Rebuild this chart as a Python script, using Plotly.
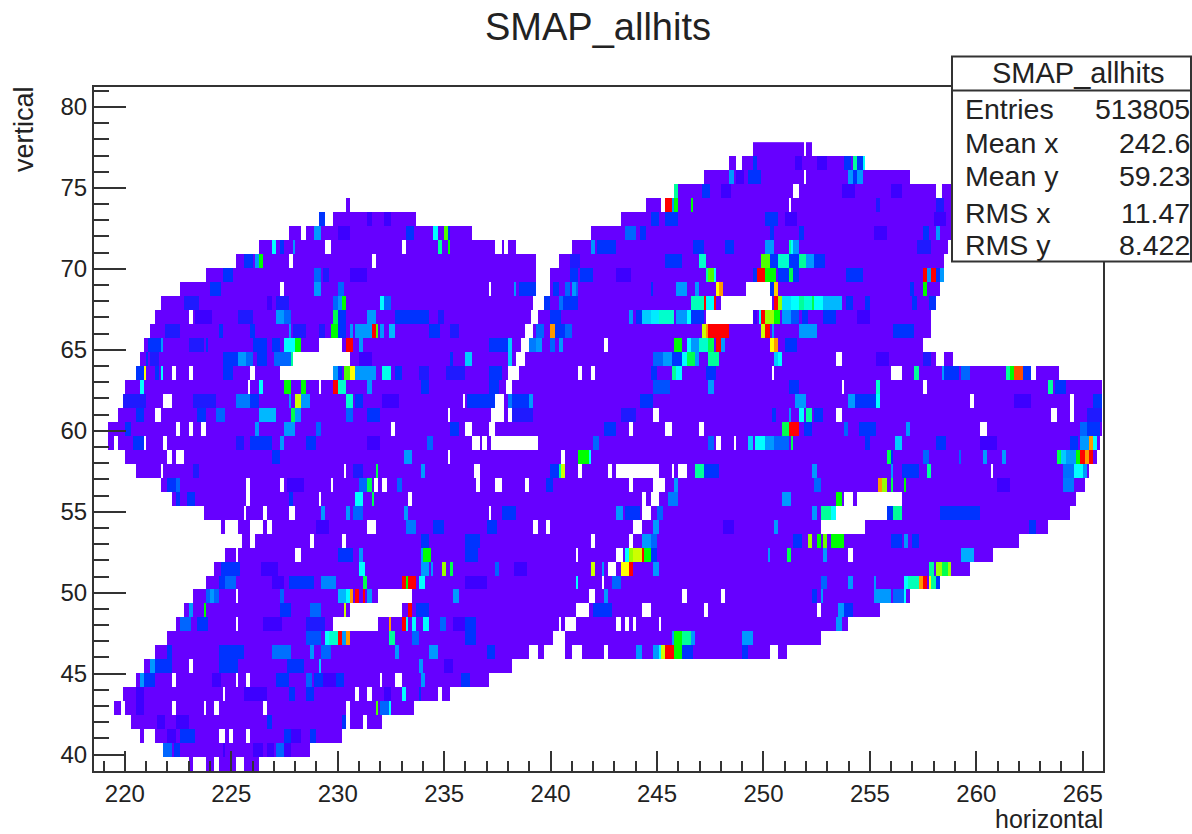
import numpy as np
import plotly.graph_objects as go

TITLE = "SMAP_allhits"
stats_labels = ["Entries", "Mean x", "Mean y", "RMS x", "RMS y"]
stats_values = ["513805", "242.6", "59.23", "11.47", "8.422"]
x_ticks = [220, 225, 230, 235, 240, 245, 250, 255, 260, 265]
y_ticks = [40, 45, 50, 55, 60, 65, 70, 75, 80]

# colour levels of the ROOT rainbow palette, low to high
palette = ["#6600ff", "#3d00ff", "#0033ff", "#0099ff", "#00ffff", "#00ff99",
           "#00ff00", "#99ff00", "#ffff00", "#ff9900", "#ff0000"]

# occupied x ranges per vertical row (row 0 is the bottom one)
row_spans = {
 0: [(223.0,223.2),(223.8,224.2),(224.45,225.15),(225.6,226.35)],
 1: [(221.85,228.65)],
 2: [(220.65,220.9),(221.4,230.25)],
 3: [(220.3,230.4),(230.6,231.2),(231.4,232.1)],
 4: [(219.55,219.85),(220.05,233.6)],
 5: [(219.9,234.7),(234.95,235.3)],
 6: [(220.5,237.1)],
 7: [(220.9,238.25)],
 8: [(221.4,239.0),(239.4,239.65),(240.7,250.35),(250.7,251.1)],
 9: [(222.0,240.1),(240.75,252.65)],
 10: [(222.45,254.0)],
 11: [(222.85,255.55)],
 12: [(223.2,256.9)],
 13: [(223.8,258.35)],
 14: [(224.2,259.7)],
 15: [(224.75,260.8)],
 16: [(225.55,262.0)],
 17: [(224.55,224.75),(225.35,263.4)],
 18: [(223.65,264.4)],
 19: [(222.25,264.75)],
 20: [(221.65,265.1)],
 21: [(220.5,265.35)],
 22: [(220.05,265.75)],
 23: [(219.25,265.85)],
 24: [(219.25,265.95)],
 25: [(219.7,265.95)],
 26: [(219.9,265.95)],
 27: [(220.05,265.95)],
 28: [(220.5,263.95)],
 29: [(220.65,258.1),(258.55,258.9)],
 30: [(220.9,257.5)],
 31: [(221.25,257.9)],
 32: [(221.4,257.9)],
 33: [(221.65,258.07)],
 34: [(222.6,239.3),(240.0,258.3)],
 35: [(223.8,239.35),(240.0,258.5)],
 36: [(225.16,239.35),(240.4,258.5)],
 37: [(226.35,238.45),(241.0,258.7)],
 38: [(227.74,236.3),(241.95,258.8)],
 39: [(229.08,233.75),(243.3,258.8)],
 40: [(230.4,230.6),(244.5,258.8)],
 41: [(245.85,258.1),(258.4,258.8)],
 42: [(247.2,256.9)],
 43: [(248.4,248.7),(249.0,254.8)],
 44: [(249.5,251.9),(252.05,252.3)],
}

# white holes inside the occupied ranges
row_gaps = {
 2: [(224.4,224.75),(224.95,225.1),(225.75,225.95)],
 4: [(222.25,222.4),(223.65,223.8),(224.2,224.4),(226.5,226.65),(230.45,230.6)],
 5: [(224.6,224.75),(230.8,231.0),(231.4,231.6)],
 6: [(222.25,222.4),(225.15,225.35),(225.75,225.95),(232.0,232.1),(232.75,233.0)],
 7: [(223.05,223.2)],
 8: [(241.0,241.5),(242.55,242.75)],
 10: [(225.15,225.35),(229.85,231.95),(240.4,240.55),(240.75,241.15),(243.1,243.3),(243.5,243.7),(243.9,244.05),(245.1,245.2),(248.65,248.75)],
 11: [(230.6,233.0),(241.2,241.8),(244.3,244.65),(247.2,247.4),(252.5,252.65)],
 12: [(225.15,225.35),(231.95,233.55),(241.8,242.1),(246.2,246.45),(248.0,248.15)],
 13: [(242.4,242.55)],
 14: [(242.7,243.1)],
 15: [(225.15,225.35),(228.05,228.3),(241.2,241.35),(243.1,243.45),(254.0,254.15)],
 16: [(225.95,226.1),(228.65,228.9),(230.25,230.4),(241.95,242.1),(243.7,243.9)],
 17: [(225.95,226.55),(226.7,226.95),(231.4,231.8),(239.2,239.4),(239.8,240.0),(243.9,244.3),(252.65,254.8)],
 18: [(225.6,225.75),(226.55,226.7),(227.7,228.05),(237.1,237.25),(244.3,244.65),(253.45,255.85)],
 19: [(225.75,225.95),(229.1,229.25),(233.3,233.55),(244.3,244.5),(244.65,245.1),(253.85,254.15),(254.45,254.6),(254.6,256.55)],
 20: [(225.75,225.95),(227.3,227.55),(229.65,229.85),(231.75,231.95),(232.1,232.35),(236.5,236.65),(237.4,237.65),(238.8,239.05),(243.7,243.9),(244.8,245.4)],
 21: [(221.65,221.85),(230.3,230.45),(236.45,236.65),(241.35,241.5),(242.7,242.95),(243.1,245.1),(245.7,245.85),(246.0,246.45),(260.7,260.85)],
 22: [(222.0,222.25),(222.45,222.85),(235.15,235.3),(240.55,240.75)],
 23: [(219.55,219.7),(220.9,221.05),(221.85,222.0),(236.3,236.65),(236.8,237.05),(237.25,239.4),(247.8,248.0),(248.6,248.75)],
 24: [(222.45,222.6),(223.0,223.2),(223.6,223.8),(232.55,232.75),(236.05,236.3),(237.1,237.4),(243.7,243.9),(245.45,245.7),(247.05,247.2),(260.25,260.5)],
 25: [(221.4,221.65),(235.15,235.3),(237.25,237.85),(238.0,238.25),(244.85,245.1),(253.4,253.7),(263.55,263.8),(264.45,264.6)],
 26: [(221.85,222.25),(235.9,236.05),(237.45,237.85),(259.75,259.9),(264.45,264.6)],
 27: [(225.8,225.95),(229.1,229.25),(237.9,238.25),(253.7,253.85),(257.5,257.75)],
 28: [(222.25,222.4),(223.05,223.2),(225.95,226.1),(227.3,229.85),(238.0,238.55),(241.35,241.5),(241.95,242.1),(250.36,250.5),(256.0,256.55),(262.6,262.8)],
 29: [(227.9,230.6),(238.4,238.8),(253.45,253.7)],
 30: [(229.1,230.25),(238.6,239.0),(242.5,242.7)],
 31: [(238.8,239.2)],
 32: [(223.05,223.2),(239.07,239.4),(247.35,249.5)],
 33: [(239.2,239.65),(248.0,250.36)],
 34: [(227.3,227.55),(237.1,237.25),(249.15,250.35)],
 36: [(227.75,227.9),(231.6,231.8)],
 37: [(229.4,229.65),(233.0,233.2),(237.45,237.65),(237.85,238.0)],
 38: [(228.3,228.5)],
 39: [(229.4,229.8)],
 40: [(245.25,245.4),(251.15,251.3)],
 41: [(251.45,251.7)],
 42: [(251.9,252.05)],
}

# coloured cells: (from x, to x, palette level)
row_marks = {
 1: [(221.85,222.25,3.5),(222.3,222.6,3),(224.6,224.75,2),(226.05,226.55,2),(226.7,227.05,2),(227.1,227.55,3.5),(227.55,227.85,2)],
 2: [(222.0,222.4,2),(222.6,223.35,3),(227.55,227.85,3),(227.85,228.3,2),(228.65,229.05,3)],
 3: [(230.2,230.4,3),(226.7,226.95,3)],
 4: [(220.5,220.9,2),(231.8,231.95,7.5),(232.0,232.4,3.5),(232.4,232.55,5)],
 5: [(220.5,220.9,2),(225.6,226.7,2),(227.7,228.0,3),(228.5,228.9,3),(232.2,232.55,2),(233.0,233.15,5),(233.8,233.95,3),(235.5,235.8,2)],
 6: [(220.65,220.9,4),(220.9,221.4,3),(227.1,227.65,3),(228.5,228.8,3.5),(228.9,229.3,3),(229.9,230.3,3),(232.75,232.9,3),(233.9,234.1,4),(235.8,236.2,3)],
 7: [(221.25,221.4,4),(221.45,222.25,3),(224.4,225.3,3),(227.6,228.4,3),(229.1,229.25,4.5),(233.8,234.0,4),(235.0,235.4,2)],
 8: [(222.0,222.25,3),(224.4,225.6,3),(226.9,227.85,3.6),(228.65,228.9,4),(229.25,229.65,3.5),(232.7,232.9,4),(234.35,234.65,4),(237.0,237.4,3),(244.05,244.3,4),(244.8,245.1,4),(245.1,245.25,5),(245.25,245.4,8.5),(245.4,245.85,11),(245.85,246.15,7),(246.2,246.7,3),(249.0,249.3,3)],
 9: [(228.5,229.2,3.3),(229.45,229.6,5),(229.6,230.0,5.5),(230.0,230.25,11),(230.25,230.45,4),(230.45,230.6,10),(232.4,232.7,6),(245.7,245.83,4),(245.83,246.2,7),(246.2,246.6,6),(246.6,246.8,4),(249.0,249.5,4),(233.5,233.8,3.5),(236.0,236.5,3)],
 10: [(222.6,223.1,3.5),(223.4,223.95,3),(228.5,229.4,2.5),(232.4,232.55,10),(233.0,233.15,11),(233.15,233.3,5),(233.55,233.75,5),(234.0,234.35,5),(234.8,235.1,3.5),(236.0,236.5,3),(253.4,253.7,4)],
 11: [(223.0,223.2,4),(223.65,223.8,7),(227.3,227.85,3),(228.65,229.2,3.5),(230.3,230.45,8.5),(233.3,233.55,11),(233.65,234.35,3),(242.0,242.9,3),(253.5,253.85,4),(253.85,254.2,3)],
 12: [(223.8,224.4,3.5),(224.0,224.2,4),(227.3,227.55,3.5),(230.05,230.45,4.3),(230.45,230.6,5),(230.6,230.75,10),(230.8,231.0,11),(231.2,231.35,11),(231.4,231.6,4),(235.45,235.7,4),(242.55,242.75,4),(252.3,252.5,3),(252.65,252.8,4),(255.2,256.05,4),(256.15,256.6,3.5),(256.6,256.75,5)],
 13: [(224.4,224.75,3),(224.75,225.15,3.5),(227.7,228.9,3),(229.25,229.95,3.8),(231.2,231.4,6.5),(233.0,233.15,11),(233.15,233.3,7),(233.3,233.7,11),(233.8,234.1,5),(241.2,241.35,5),(242.95,243.3,3.5),(252.65,253.05,3.5),(254.0,254.2,4),(255.2,255.35,4),(256.6,256.8,5),(256.8,257.3,5.7),(257.3,257.5,10),(257.5,257.75,11),(257.8,257.95,9),(257.95,258.1,6),(258.1,258.35,3)],
 14: [(224.5,225.4,3),(231.05,231.35,5),(233.9,234.3,4),(234.4,234.55,4),(234.95,235.1,8),(235.3,235.45,6.5),(237.4,237.6,3.5),(241.95,242.1,8.5),(242.4,242.55,4),(243.3,243.7,9),(243.7,243.9,11),(244.8,245.1,4),(257.8,258.0,6),(258.1,258.4,8),(258.4,258.7,6.5),(258.7,258.85,8)],
 15: [(230.05,230.75,3),(231.05,231.2,4),(233.9,234.05,4),(234.05,234.4,7),(243.5,243.7,5),(243.75,243.95,8),(243.95,244.3,8.5),(244.3,244.45,11),(244.45,244.65,7),(244.65,245.05,3),(250.15,250.3,4),(251.1,251.3,6.5),(252.8,253.05,4),(259.3,259.9,4.2),(236.0,236.6,3)],
 16: [(233.95,234.35,3),(236.0,236.7,3),(244.3,244.65,4),(244.65,245.05,3.5),(251.45,251.85,3),(252.1,252.35,8),(252.5,252.65,7),(252.8,253.05,7.7),(253.25,253.85,7),(256.0,256.55,3),(256.6,256.8,4),(257.0,257.3,3)],
 17: [(233.2,233.65,3.7),(234.5,235.05,3),(237.0,237.5,3),(244.8,245.1,4),(250.5,250.7,4),(262.5,262.8,3)],
 18: [(229.25,229.4,4),(230.45,230.6,4),(230.75,231.15,3.5),(233.1,233.3,4),(237.7,238.4,3),(243.1,243.45,4),(243.5,244.2,3),(245.05,245.35,3.5),(252.3,252.5,4),(252.7,253.25,6),(253.25,253.45,5),(255.85,256.15,3),(256.15,256.55,6),(258.3,260.2,3)],
 19: [(222.4,222.6,3),(222.9,223.35,3),(227.7,227.9,3),(230.8,231.2,5),(231.6,231.75,6.5),(245.5,246.0,3.7),(250.9,251.3,4),(253.4,253.65,7),(255.0,256.0,3)],
 20: [(222.0,222.4,3),(222.45,222.6,3.5),(231.05,231.4,3.5),(231.4,231.6,6.5),(232.8,233.05,3.5),(239.8,240.1,3),(245.85,246.05,4),(252.45,252.75,3.5),(255.4,255.6,10),(255.6,255.8,8),(256.0,256.15,6.5),(256.6,256.75,7),(264.1,264.6,3.7)],
 21: [(223.2,223.55,2.5),(230.7,231.2,2.5),(231.8,231.95,6.5),(233.95,234.1,4),(240.0,240.4,3),(240.4,240.55,6),(240.55,240.7,8.5),(246.8,247.2,6),(247.25,247.95,3),(252.3,252.5,4),(256.0,256.15,4),(256.55,257.3,3),(257.75,257.95,6),(264.1,264.6,3.6),(264.6,265.0,5),(265.0,265.2,4)],
 22: [(226.9,227.3,3),(233.1,233.55,4),(241.35,241.8,7),(241.8,241.95,5),(255.85,256.0,6.5),(256.0,256.15,3),(257.5,257.8,3.5),(259.2,259.35,3.5),(260.3,260.5,4),(261.25,261.45,4),(263.8,264.0,6.5),(264.0,264.2,4.5),(264.2,264.75,4),(264.75,264.9,7),(264.9,265.15,11),(265.15,265.35,10),(265.35,265.5,11)],
 23: [(220.4,221.0,3),(225.15,225.6,2.5),(225.9,226.9,3),(227.3,227.55,4),(228.5,229.05,3),(234.2,234.5,3.5),(242.0,242.35,3.5),(247.4,247.7,3.5),(249.35,249.5,4.5),(249.6,249.8,5),(249.82,250.1,5),(250.1,250.5,4),(250.5,251.15,3.5),(251.3,251.45,6.5),(254.8,255.05,3),(256.25,256.55,4.5),(258.1,258.6,3),(264.45,264.85,3),(264.9,265.2,4),(265.2,265.35,4),(265.35,265.5,10),(265.5,265.75,5)],
 24: [(220.05,220.35,3),(226.1,226.35,4),(227.55,228.0,4),(229.0,229.2,3.5),(235.3,235.7,3),(242.55,243.1,3),(250.9,251.15,6.5),(251.15,251.7,11),(251.9,252.3,3),(253.85,254.05,3.5),(254.5,255.35,3),(256.75,256.95,4),(264.9,265.2,3.5),(265.2,265.8,3)],
 25: [(220.5,220.9,3),(223.4,223.8,3),(224.35,224.75,3.5),(226.35,227.1,4.3),(227.85,228.05,6.5),(228.05,228.3,4),(230.45,230.75,3.5),(231.4,232.0,3),(238.25,239.2,2.5),(243.35,244.05,2.5),(250.45,250.6,3),(251.15,251.3,4),(251.7,251.9,5),(252.05,252.3,6),(252.4,252.85,3),(265.2,265.9,2.5)],
 26: [(219.9,221.05,2.5),(223.2,224.35,2.5),(225.15,225.9,3.7),(225.9,226.3,3),(227.65,227.8,4),(228.05,228.3,8.5),(228.3,228.65,4),(230.45,230.75,5.5),(230.85,231.2,3),(236.1,237.4,3),(238.0,238.25,3.7),(238.25,239.0,3),(239.0,239.2,4),(244.2,244.8,3),(251.55,252.0,4),(254.05,254.3,4),(254.3,255.35,3),(255.35,255.55,5),(265.55,265.95,3)],
 27: [(220.65,220.9,5),(226.35,226.5,5),(227.55,227.85,7),(228.3,228.5,7),(229.85,230.0,11),(230.0,230.45,5.5),(231.4,231.6,4),(233.9,234.35,3),(237.1,237.6,3),(244.8,245.6,3.3),(247.4,247.65,4),(251.15,251.7,3),(255.35,255.55,5.5),(263.4,263.6,6),(263.7,264.2,3)],
 28: [(220.5,220.9,3),(220.9,221.05,9),(221.45,221.6,3),(221.65,221.8,5),(224.6,225.1,3),(229.85,230.05,4),(230.05,230.25,3),(230.3,230.6,7.5),(230.6,230.8,9),(230.85,231.15,4),(231.2,231.8,4),(232.1,232.55,5.2),(232.65,233.0,3),(233.8,234.3,2.5),(235.1,236.0,2.5),(237.1,237.7,3),(244.65,245.05,3),(245.7,245.9,6),(245.9,246.15,5),(247.3,247.8,3),(257.15,257.35,6),(258.4,258.55,4),(258.55,259.2,3),(259.3,259.7,3.5),(261.45,261.6,6),(261.6,261.85,7),(261.85,262.2,10.5),(262.25,262.6,3)],
 29: [(221.0,221.1,3),(221.25,221.6,2.5),(224.6,225.3,3),(225.3,225.75,4),(225.75,226.05,3.5),(226.15,226.7,3),(227.0,227.85,3.5),(227.85,227.95,6),(235.3,235.45,3),(236.05,236.3,4.5),(238.0,238.25,4.5),(244.8,245.3,3.5),(245.3,245.65,4),(245.75,246.15,3),(246.25,246.4,5),(246.4,246.8,6.5),(246.8,247.0,4),(247.4,247.95,6),(250.5,250.7,4.5),(250.7,250.9,5),(257.5,257.9,2.5)],
 30: [(221.1,221.65,3),(221.65,221.85,4),(223.0,223.65,2.5),(223.8,223.95,3),(226.05,226.7,3),(226.9,227.3,3),(227.55,228.0,5),(228.05,228.3,7),(230.45,230.75,11),(231.05,231.2,4),(237.1,238.0,3),(238.0,238.25,4.5),(239.0,239.3,3.7),(239.3,239.6,4),(240.0,240.15,3.5),(240.4,240.6,4),(245.85,246.2,7),(246.45,246.6,5),(246.6,247.0,4),(247.0,247.4,5.5),(247.4,247.75,6.5),(247.8,247.97,11),(248.0,248.2,4),(250.33,250.5,9),(250.5,250.67,10),(251.0,251.6,3)],
 31: [(221.9,222.6,2.5),(224.4,224.6,3),(225.9,226.1,3),(227.7,227.85,4),(227.9,228.5,2.5),(229.1,229.45,2.5),(229.7,230.0,7),(230.0,230.45,3),(230.6,230.75,4),(230.8,231.6,4),(231.6,231.8,11),(231.8,231.95,7.5),(232.0,232.25,4),(232.4,232.7,4.3),(234.35,234.8,3),(235.35,235.7,2.5),(239.35,239.65,3.5),(240.0,240.15,10),(240.15,240.7,3),(240.75,241.0,3.5),(247.1,247.3,8.5),(247.3,247.4,10),(247.4,248.4,11),(249.9,250.1,8.5),(250.1,250.35,11),(250.4,250.55,4),(251.75,252.5,4),(256.15,257.15,3)],
 32: [(225.35,226.05,2.5),(227.1,227.5,4),(227.55,227.85,3.5),(229.85,230.0,6.5),(230.0,230.45,3),(231.4,231.8,4),(232.7,234.3,3),(234.75,235.05,2.5),(240.0,240.5,3),(243.75,243.9,4),(244.05,244.3,3),(244.3,244.65,4.5),(244.65,245.1,4.8),(245.1,245.85,5.5),(245.9,246.45,4),(246.45,246.6,5),(246.6,247.2,3),(249.5,249.75,2),(249.77,249.95,5),(249.95,250.1,11),(250.1,250.5,8),(250.5,250.85,7),(250.9,251.3,4),(251.35,251.75,3.3),(251.85,252.1,3),(252.85,253.4,3)],
 33: [(222.85,223.55,2.5),(226.7,226.95,2),(227.1,227.7,2.5),(229.85,230.05,3.5),(230.05,230.25,4),(230.25,230.4,7),(232.0,232.15,5),(232.15,232.55,3.5),(239.65,240.0,3),(240.4,240.6,3.6),(240.6,241.3,3),(246.6,247.2,5.7),(247.2,247.35,11),(247.35,247.65,5),(247.65,247.8,11),(250.5,250.7,11),(250.75,250.9,8),(250.9,251.3,4.7),(251.3,251.75,5),(251.75,251.9,6),(251.9,252.3,5.4),(252.3,252.45,6.5),(252.45,252.8,5),(252.85,253.65,4.3),(253.9,254.2,3),(254.8,255.0,3),(257.0,257.2,3),(257.8,258.07,3)],
 34: [(224.0,224.5,3),(228.9,229.25,4),(230.05,230.3,3.5),(238.3,238.45,4),(238.5,239.3,3),(240.1,240.45,3),(240.75,240.9,3.5),(241.0,241.2,4),(241.2,241.35,3.5),(245.9,246.45,4),(246.8,247.05,4),(247.8,247.95,9),(247.95,248.1,10),(244.65,244.8,3),(250.5,250.65,9.5),(250.35,250.5,3),(257.55,257.75,7),(256.9,257.15,3)],
 35: [(224.6,225.1,3),(228.9,229.2,3.5),(229.3,229.6,2.5),(240.9,241.3,3),(241.45,242.0,3),(247.3,247.4,6),(247.4,247.65,7.5),(247.65,247.8,5),(249.5,249.75,3),(249.75,250.1,11),(250.1,250.6,7),(250.65,251.15,3),(251.2,251.45,6.5),(251.45,251.7,3),(253.9,254.65,3),(257.5,257.75,11),(257.75,257.95,4),(257.95,258.1,11),(258.1,258.3,3),(258.3,258.5,4)],
 36: [(225.6,226.05,3),(226.1,226.35,4),(226.35,226.55,7),(240.9,241.4,2.5),(245.45,246.2,3),(247.05,247.35,5.5),(249.95,250.35,7.5),(250.35,250.65,3),(250.65,251.15,5.5),(251.15,251.7,3),(251.75,252.05,6),(252.05,252.45,4),(252.45,252.95,3)],
 37: [(226.95,227.1,5),(227.3,227.55,3),(227.9,228.05,4),(234.7,234.95,6),(235.15,235.3,7),(241.95,242.1,4),(242.2,243.1,3),(246.75,247.15,3),(248.2,248.6,3),(250.1,250.5,4),(251.15,251.3,6),(251.3,251.45,5),(251.45,251.7,4),(257.2,257.9,2.5)],
 38: [(228.9,229.25,4),(233.2,233.6,3),(234.5,234.7,5),(235.0,235.15,7.5),(235.2,235.35,3),(243.5,244.05,3.5),(244.15,244.5,3),(250.35,250.5,3),(251.75,251.95,3),(257.5,257.8,3),(258.1,258.35,4)],
 39: [(229.08,229.4,3),(231.4,231.6,2),(232.25,232.5,2),(244.65,245.1,3),(245.45,246.0,3),(250.1,250.65,3),(251.0,251.6,2),(258.0,258.6,2)],
 40: [(245.45,245.7,11),(245.7,245.85,4),(245.85,246.0,7),(246.6,246.75,7),(255.3,255.5,2.5),(258.1,258.5,2.5)],
 41: [(245.85,246.05,6),(247.1,247.55,3),(256.0,256.5,2)],
 42: [(248.4,248.6,4),(248.7,249.1,2),(249.35,249.9,3),(254.0,254.2,4),(254.2,254.45,3),(254.45,254.65,4)],
 43: [(249.5,249.75,3),(251.5,251.85,2),(252.5,253.05,2),(253.85,254.1,3),(254.2,254.45,6),(254.45,254.65,3),(254.65,254.8,5)],
}

# background speckle: slightly bluer runs of the lowest occupied level
row_speckle = {
 3: [(221.5,221.9),(222.4,223.0)],
 6: [(224.1,224.5),(229.3,229.9)],
 10: [(226.5,227.4),(235.4,236.0)],
 13: [(226.9,227.5),(236.0,237.0)],
 14: [(226.4,227.2),(238.3,238.9)],
 17: [(229.0,229.6),(248.1,248.6)],
 20: [(227.6,228.4),(261.0,261.6)],
 23: [(231.4,232.0),(260.2,261.0)],
 26: [(232.1,232.9),(261.8,262.6)],
 29: [(231.0,231.6),(255.3,255.9)],
 32: [(223.3,224.1),(254.4,255.0)],
 35: [(230.6,231.4),(243.1,243.8)],
 38: [(230.0,230.6),(255.2,255.8)],
 41: [(248.0,248.5),(253.7,254.3)],
}

COL_WIDTH = 0.1
X_START = 218.5
ROW_HEIGHT = 0.8636
Y_START = 38.96
N_COLS = 476
N_ROWS = 45

x_edges = X_START + COL_WIDTH * np.arange(N_COLS + 1)
y_edges = Y_START + ROW_HEIGHT * np.arange(N_ROWS + 1)
x_mid = 0.5 * (x_edges[:-1] + x_edges[1:])
z = np.full((N_ROWS, N_COLS), np.nan)


def paint(row, x0, x1, value):
    z[row, (x_mid >= x0) & (x_mid < x1)] = value


for row, spans in row_spans.items():
    for x0, x1 in spans:
        paint(row, x0, x1, 1)
for row, runs in row_speckle.items():
    for x0, x1 in runs:
        paint(row, x0, x1, 2)
for row, marks in row_marks.items():
    for x0, x1, lvl in marks:
        keep = ~np.isnan(z[row])
        sel = (x_mid >= x0) & (x_mid < x1) & keep
        z[row, sel] = lvl
for row, gaps in row_gaps.items():
    for x0, x1 in gaps:
        paint(row, x0, x1, np.nan)

colorscale = [[i / (len(palette) - 1), c] for i, c in enumerate(palette)]

W, H = 1192, 834
L, R, T, B = 94, 89, 87, 63
PW, PH = W - L - R, H - T - B


def px(v):
    return (v - L) / PW


def py(v):
    return 1 - (v - T) / PH


fig = go.Figure(go.Heatmap(x=x_edges, y=y_edges, z=z, zmin=1, zmax=11,
                           colorscale=colorscale, showscale=False,
                           hoverongaps=False, zsmooth=False))

font = "Liberation Sans"
ink = "#222222"
axis_common = dict(showgrid=False, zeroline=False, showline=True, mirror=True,
                   linecolor="#333333", linewidth=2, ticks="inside",
                   tickcolor="#333333", tickwidth=2, tickmode="array",
                   tickfont=dict(family=font, size=24, color=ink))
fig.update_xaxes(range=[218.55, 265.95], tickvals=x_ticks, ticklen=20,
                 minor=dict(dtick=1, ticks="inside", ticklen=10, tickwidth=2,
                            tickcolor="#333333", showgrid=False),
                 **axis_common)
fig.update_yaxes(range=[38.99, 81.23], tickvals=y_ticks, ticklen=32,
                 minor=dict(dtick=1, ticks="inside", ticklen=15, tickwidth=2,
                            tickcolor="#333333", showgrid=False),
                 **axis_common)

shapes = [
    dict(type="rect", xref="paper", yref="paper", layer="above",
         x0=px(952), x1=px(1191), y0=py(261.5), y1=py(56.5),
         fillcolor="white", line=dict(color="#333333", width=2)),
    dict(type="line", xref="paper", yref="paper", layer="above",
         x0=px(952), x1=px(1191), y0=py(90.5), y1=py(90.5),
         line=dict(color="#333333", width=2)),
]


def label(text, x, y, size, anchor="left", angle=0):
    return dict(text=text, x=px(x), y=py(y), xref="paper", yref="paper",
                xanchor=anchor, yanchor="middle", showarrow=False,
                textangle=angle, font=dict(family=font, size=size, color=ink))


annotations = [
    label(TITLE, 598, 27, 38, "center"),
    label(TITLE, 1078, 73, 29, "center"),
    label("horizontal", 1105, 819, 25, "right"),
]
annotations.append(dict(text="vertical", x=px(24), y=py(84), xref="paper", yref="paper",
                        xanchor="center", yanchor="top", showarrow=False, textangle=-90,
                        font=dict(family=font, size=27, color=ink)))
stat_rows = [109, 143, 176, 213, 245]
for name, value, ypos in zip(stats_labels, stats_values, stat_rows):
    annotations.append(label(name, 963, ypos, 28.5))
    annotations.append(label(value, 1192, ypos, 28.5, "right"))

fig.update_layout(width=W, height=H, margin=dict(l=L, r=R, t=T, b=B, autoexpand=False),
                  plot_bgcolor="white", paper_bgcolor="white", showlegend=False,
                  shapes=shapes, annotations=annotations)

fig.write_html("out.html", config=dict(displayModeBar=False),
               post_script="document.body.style.margin='0';document.body.style.overflow='hidden';")
